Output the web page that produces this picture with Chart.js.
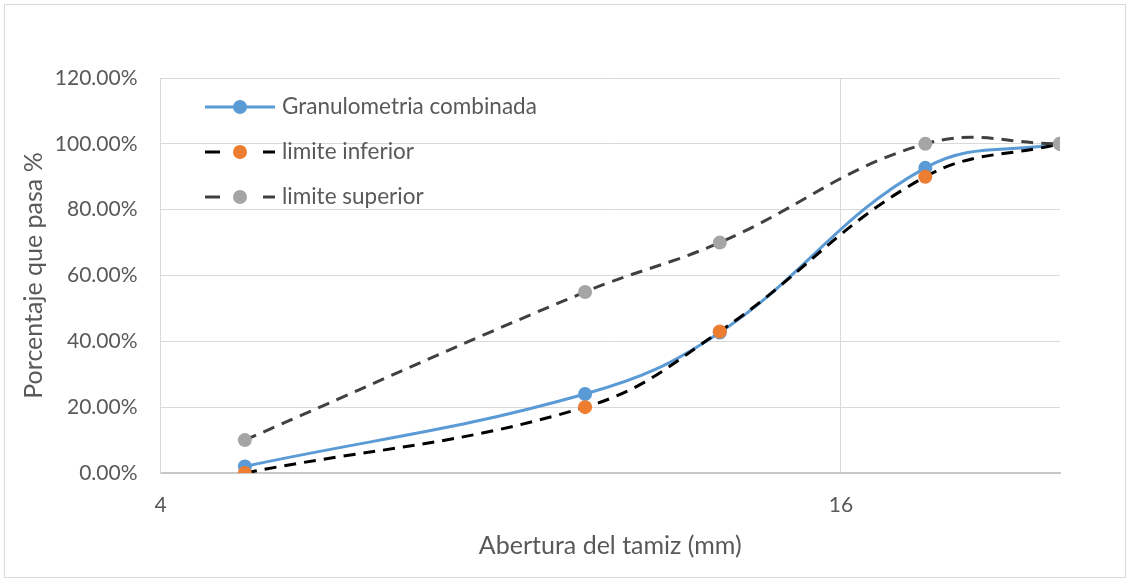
<!DOCTYPE html>
<html>
<head>
<meta charset="utf-8">
<script src="https://cdn.jsdelivr.net/npm/chart.js@4/dist/chart.umd.min.js"></script>
<style>
html,body{margin:0;padding:0;background:#fff;}
#wrap{width:1130px;height:583px;}
</style>
</head>
<body>
<div id="wrap"><canvas id="c" width="1130" height="583"></canvas></div>
<script>
const sieveSizes = [4.75, 9.5, 12.5, 19, 25];
const combinada = [2, 24, 42.7, 92.7, 100];
const limiteInferior = [0, 20, 43, 90, 100];
const limiteSuperior = [10, 55, 70, 100, 100];
const xTicks = [4, 16];
const seriesNames = ['Granulometria combinada', 'limite inferior', 'limite superior'];

const FONT = 'Lato, "Open Sans", sans-serif';
const TXT = '#595959';

function pts(vals){ return sieveSizes.map((x,i)=>({x:x, y:vals[i]})); }

const borderPlugin = {
  id:'outerBorder',
  beforeDraw(chart){
    const ctx = chart.ctx;
    ctx.save();
    ctx.fillStyle = '#fff';
    ctx.fillRect(0,0,chart.width,chart.height);
    ctx.strokeStyle = '#d9d9d9';
    ctx.lineWidth = 1;
    ctx.strokeRect(4.5,4.5,1121,573);
    ctx.restore();
  }
};

const legendPlugin = {
  id:'customLegend',
  afterDraw(chart){
    const ctx = chart.ctx;
    const rows = [107, 152, 197];
    const styles = [
      {line:'#5B9BD5', dash:false, marker:'#5B9BD5'},
      {line:'#000000', dash:true, marker:'#ED7D31'},
      {line:'#404040', dash:true, marker:'#A5A5A5'}
    ];
    ctx.save();
    rows.forEach((y,i)=>{
      const s = styles[i];
      ctx.strokeStyle = s.line;
      ctx.lineWidth = 3;
      ctx.lineCap = 'butt';
      ctx.beginPath();
      if(!s.dash){
        ctx.moveTo(205,y); ctx.lineTo(275,y);
      } else {
        ctx.moveTo(205,y); ctx.lineTo(220,y);
        ctx.moveTo(263,y); ctx.lineTo(275,y);
      }
      ctx.stroke();
      ctx.fillStyle = s.marker;
      ctx.beginPath();
      ctx.arc(240,y,7,0,Math.PI*2);
      ctx.fill();
      ctx.fillStyle = TXT;
      ctx.font = '22.5px ' + FONT;
      ctx.textBaseline = 'middle';
      ctx.textAlign = 'left';
      ctx.fillText(seriesNames[i], 282, y);
    });
    ctx.restore();
  }
};

new Chart(document.getElementById('c'), {
  type:'line',
  data:{
    datasets:[
      {label:seriesNames[0], data:pts(combinada), borderColor:'#5B9BD5', backgroundColor:'#5B9BD5',
       borderWidth:3, pointRadius:7, pointBorderWidth:0, pointBackgroundColor:'#5B9BD5', tension:0.4, order:3},
      {label:seriesNames[1], data:pts(limiteInferior), borderColor:'#000000', backgroundColor:'#ED7D31',
       borderWidth:3, borderDash:[12,8], pointRadius:7, pointBorderWidth:0, pointBackgroundColor:'#ED7D31', tension:0.4, order:2},
      {label:seriesNames[2], data:pts(limiteSuperior), borderColor:'#404040', backgroundColor:'#A5A5A5',
       borderWidth:3, borderDash:[12,8], pointRadius:7, pointBorderWidth:0, pointBackgroundColor:'#A5A5A5', tension:0.4, order:1}
    ]
  },
  options:{
    responsive:false,
    animation:false,
    layout:{padding:{left:0, top:78, right:70, bottom:0}},
    plugins:{legend:{display:false}, tooltip:{enabled:false}},
    scales:{
      x:{
        type:'logarithmic', min:4, max:25,
        afterBuildTicks(scale){ scale.ticks = xTicks.map(v=>({value:v, major:false})); },
        afterFit(scale){ scale.height = 110; },
        grid:{color:'#d9d9d9', lineWidth:1, drawTicks:false},
        border:{color:'#c8c8c8', width:2},
        ticks:{color:TXT, font:{family:FONT, size:21}, padding:20, autoSkip:false, maxRotation:0,
               callback:(v)=>String(v)},
        title:{display:true, text:'Abertura del tamiz (mm)', color:TXT, font:{family:FONT, size:25}, padding:{top:0,bottom:22}}
      },
      y:{
        min:0, max:120,
        afterFit(scale){ scale.width = 160.5; },
        grid:{color:'#d9d9d9', lineWidth:1, drawTicks:false},
        border:{color:'#d9d9d9', width:1},
        ticks:{stepSize:20, color:TXT, font:{family:FONT, size:21}, padding:23,
               callback:(v)=>v.toFixed(2)+'%'},
        title:{display:true, text:'Porcentaje que pasa %', color:TXT, font:{family:FONT, size:25}, padding:{top:19,bottom:0}}
      }
    }
  },
  plugins:[borderPlugin, legendPlugin]
});
</script>
</body>
</html>
